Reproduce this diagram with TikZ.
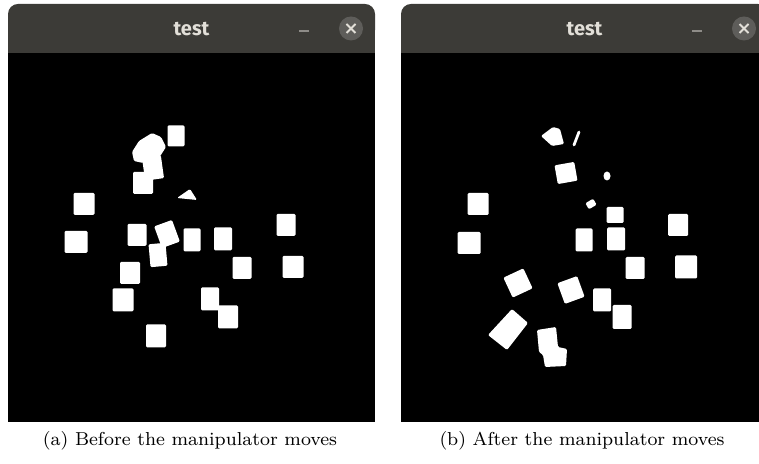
\documentclass[tikz,border=0pt]{standalone}
\usepackage{fontspec}
\newfontfamily\titlefont{Fira Sans}
\usetikzlibrary{positioning}

\definecolor{barcol}{HTML}{3C3B37}
\definecolor{btncol}{HTML}{5E5D5A}
\definecolor{titlecol}{HTML}{E2DFD8}
\definecolor{mincol}{HTML}{8E8C88}

\tikzset{
  screen/.style={fill=black},
  blob/.style={fill=white, rounded corners=0.5pt},
  wintitle/.style={font=\titlefont\bfseries\fontsize{8}{9}\selectfont, text=titlecol, inner sep=0pt},
  closebtn/.style={circle, fill=btncol, minimum size=9.6pt, inner sep=0pt},
  minbtn/.style={rectangle, fill=mincol, minimum width=4pt, minimum height=0.5pt, inner sep=0pt},
  capt/.style={font=\fontsize{7.5}{9}\selectfont, inner sep=0pt}
}

\begin{document}
\begin{tikzpicture}[x=0.4pt,y=-0.4pt]
  \useasboundingbox (0,0) rectangle (759,464);
  \clip (0,0) rectangle (759,464);

  % two window frames: (a) at 8, (b) at 401
  \foreach \wx/\wn in {8/A,401/B}{
    \fill[barcol, rounded corners=4pt] (\wx,4) rectangle (\wx+367,40);
    \fill[barcol] (\wx,20) rectangle (\wx+367,53);
    \fill[screen] (\wx,53) rectangle (\wx+367,422);
    \node[wintitle] (title\wn) at (\wx+183.5,29) {test};
    \node[minbtn] (min\wn) at (\wx+296,31) {};
    \node[closebtn] (close\wn) at (\wx+343,28.5) {};
    \draw[titlecol, line width=0.75pt] ([shift={(-4.5,-4.5)}]close\wn.center) -- ([shift={(4.5,4.5)}]close\wn.center);
    \draw[titlecol, line width=0.75pt] ([shift={(-4.5,4.5)}]close\wn.center) -- ([shift={(4.5,-4.5)}]close\wn.center);
  }

  % blobs before the move
  \foreach \cx/\cy/\w/\h/\r in {176/136/17/21/0, 153/168/19/23/8, 143/183/20/22/0,
      84/204/21/22/0, 76/242/23/22/0, 137/235/19/22/0, 167/234/19/23/20,
      158/255/17/23/5, 192/240/17/23/0, 223/239/18/23/0, 286/225/19/22/0,
      130/273/20/22/0, 242/268/19/22/0, 293/267/21/22/0, 123/300/21/23/0,
      210/299/18/23/0, 228/317/20/23/0, 156/336/20/23/0}
    \fill[blob, rotate around={\r:(\cx,\cy)}] (\cx-\w/2,\cy-\h/2) rectangle (\cx+\w/2,\cy+\h/2);
  \fill[blob] (132,152) -- (139,141) -- (152,133) -- (161,137) -- (166,147) -- (159,158) -- (143,163) -- (134,161) -- cycle;
  \fill[blob] (177,198) -- (190,189) -- (197,200) -- cycle;

  % blobs after the move
  \foreach \cx/\cy/\w/\h/\r in {566/173/20/19/10, 615/215/17/16/0, 478/204/21/22/0,
      678/225/20/22/0, 469/243/23/22/0, 584/240/17/23/0, 616/239/18/23/0,
      635/268/19/22/0, 686/267/22/23/0, 518/283/22/22/25, 571/290/21/22/20,
      602/300/18/23/0, 622/317/19/24/0}
    \fill[blob, rotate around={\r:(\cx,\cy)}] (\cx-\w/2,\cy-\h/2) rectangle (\cx+\w/2,\cy+\h/2);
  \fill[blob] (541,136) -- (553,127) -- (560,129) -- (564,144) -- (552,146) -- cycle;
  \fill[blob] (488,335) -- (512,309) -- (528,323) -- (507,350) -- cycle;
  \fill[blob] (537,330) -- (556,327) -- (558,347) -- (567,349) -- (566,366) -- (545,367) -- (543,355) -- (539,352) -- cycle;
  \fill[blob, rotate around={30:(591,204)}] (586.5,200.5) rectangle (595.5,207.5);
  \fill[white] (607,176) ellipse [x radius=3.5, y radius=4.5];
  \draw[white, line width=1.1pt, line cap=round] (579,132) -- (574,145);

  \node[capt] (captA) at (190,441) {(a) Before the manipulator moves};
  \node[capt] (captB) at (582,441) {(b) After the manipulator moves};
\end{tikzpicture}
\end{document}
